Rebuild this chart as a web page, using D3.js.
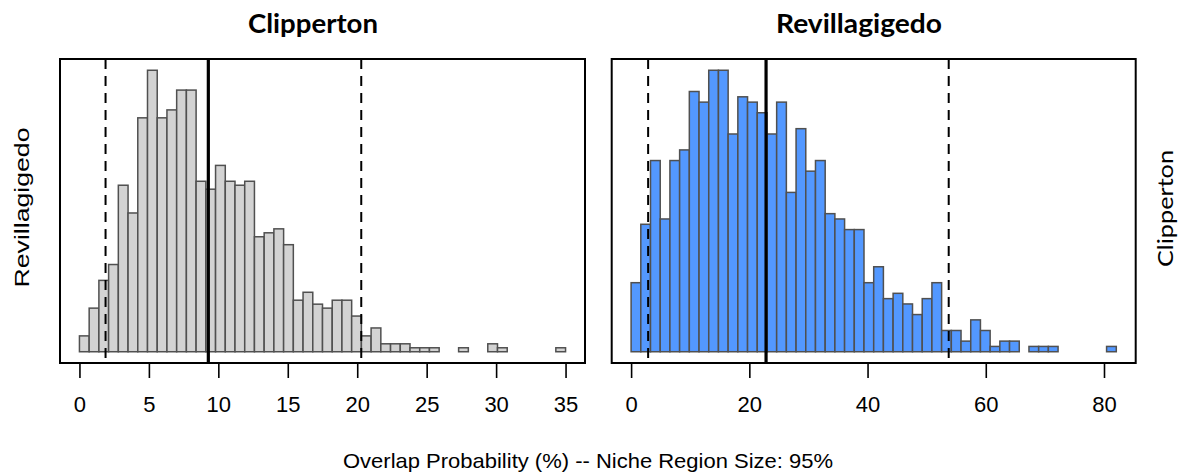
<!DOCTYPE html>
<html>
<head>
<meta charset="utf-8">
<script src="https://cdn.jsdelivr.net/npm/d3@7"></script>
<style>
  html, body { margin: 0; padding: 0; background: #fff; }
  svg { display: block; }
</style>
</head>
<body>
<svg id="chart" width="1182" height="473"></svg>
<script>
// ---- data (counts per bin) ----
const leftTitle = "Clipperton";
const rightTitle = "Revillagigedo";
const leftSideLabel = "Revillagigedo";
const rightSideLabel = "Clipperton";
const xAxisTitle = "Overlap Probability (%) -- Niche Region Size: 95%";

const leftBinWidth = 0.7;
const leftCounts = [4,11,18,22,42,35,59,71,59,61,66,66,43,41,47,43,42,43,29,30,
                    31,27,13,15,12,11,13,13,9,4,6,2,2,2,1,1,1,0,0,1,
                    0,0,2,1,0,0,0,0,0,1];
const leftTicks = [0,5,10,15,20,25,30,35];
const leftLines = { lower: 1.88, median: 9.28, upper: 20.29 };

const rightBinWidth = 1.6416;
const rightCounts = [13,24,36,25,36,38,49,47,53,53,41,48,47,45,41,47,30,42,34,36,
                     26,25,23,23,13,16,10,11,9,7,10,13,4,4,2,6,4,1,2,2,
                     0,1,1,1,0,0,0,0,0,1];
const rightTicks = [0,20,40,60,80];
const rightLines = { lower: 2.88, median: 22.83, upper: 53.73 };

// ---- layout ----
const svg = d3.select("#chart");
const boxTop = 59, boxBottom = 363;

function panel(cfg) {
  const bins = cfg.counts.map((c, i) => ({ x0: i * cfg.bw, x1: (i + 1) * cfg.bw, n: c }));
  const xMax = cfg.counts.length * cfg.bw;
  const padX = xMax * 0.04;
  const x = d3.scaleLinear().domain([-padX, xMax + padX]).range([cfg.left, cfg.right]);
  const yMax = d3.max(cfg.counts);
  const y = d3.scaleLinear().domain([-yMax * 0.04, yMax * 1.04]).range([boxBottom, boxTop]);

  const g = svg.append("g");
  g.selectAll("rect.bar").data(bins).join("rect")
    .attr("class", "bar")
    .attr("x", d => x(d.x0))
    .attr("width", d => x(d.x1) - x(d.x0))
    .attr("y", d => y(d.n))
    .attr("height", d => y(0) - y(d.n))
    .attr("fill", cfg.fill)
    .attr("stroke", "#505050")
    .attr("stroke-width", 1.5);

  // reference lines
  [["lower", true], ["median", false], ["upper", true]].forEach(([k, dashed]) => {
    g.append("line")
      .attr("x1", x(cfg.lines[k])).attr("x2", x(cfg.lines[k]))
      .attr("y1", boxTop).attr("y2", boxBottom)
      .attr("stroke", "#000")
      .attr("stroke-width", dashed ? 2 : 3.2)
      .attr("stroke-dasharray", dashed ? "10,7" : null);
  });

  // box
  g.append("rect")
    .attr("x", cfg.left).attr("y", boxTop)
    .attr("width", cfg.right - cfg.left).attr("height", boxBottom - boxTop)
    .attr("fill", "none").attr("stroke", "#000").attr("stroke-width", 2);

  // x axis
  const ax = g.append("g").attr("transform", `translate(0,${boxBottom})`)
    .call(d3.axisBottom(x).tickValues(cfg.ticks).tickSize(15).tickPadding(18).tickSizeOuter(0));
  ax.select(".domain").attr("d", `M${x(cfg.ticks[0])},0H${x(cfg.ticks[cfg.ticks.length - 1])}`)
    .attr("stroke-width", 1.6);
  ax.selectAll(".tick line").attr("stroke-width", 1.6);
  ax.selectAll(".tick text")
    .attr("font-family", "'Liberation Sans', Arial, sans-serif")
    .attr("font-size", 22).attr("fill", "#000");

  // title
  svg.append("text")
    .attr("x", cfg.titleX).attr("y", 33)
    .attr("text-anchor", "middle")
    .attr("font-family", "Lato, 'Open Sans', sans-serif")
    .attr("font-weight", "bold").attr("font-size", 26)
    .attr("textLength", cfg.titleLen).attr("lengthAdjust", "spacingAndGlyphs")
    .text(cfg.title);
}

panel({ counts: leftCounts, bw: leftBinWidth, ticks: leftTicks, lines: leftLines,
        left: 60, right: 585, fill: "#d3d3d3", title: leftTitle, titleX: 313, titleLen: 130 });
panel({ counts: rightCounts, bw: rightBinWidth, ticks: rightTicks, lines: rightLines,
        left: 611.7, right: 1135.7, fill: "#5398ff", title: rightTitle, titleX: 859, titleLen: 166 });

// side labels
svg.append("text")
  .attr("transform", "translate(29,207.5) rotate(-90)")
  .attr("text-anchor", "middle")
  .attr("font-family", "'Liberation Sans', Arial, sans-serif")
  .attr("font-size", 21)
  .attr("textLength", 160).attr("lengthAdjust", "spacingAndGlyphs")
  .text(leftSideLabel);

svg.append("text")
  .attr("transform", "translate(1173,208.5) rotate(-90)")
  .attr("text-anchor", "middle")
  .attr("font-family", "Lato, 'Open Sans', sans-serif")
  .attr("font-size", 21)
  .attr("textLength", 117).attr("lengthAdjust", "spacingAndGlyphs")
  .text(rightSideLabel);

// bottom title
svg.append("text")
  .attr("x", 588).attr("y", 468)
  .attr("text-anchor", "middle")
  .attr("font-family", "'Liberation Sans', Arial, sans-serif")
  .attr("font-size", 21)
  .attr("textLength", 490).attr("lengthAdjust", "spacingAndGlyphs")
  .text(xAxisTitle);
</script>
</body>
</html>
